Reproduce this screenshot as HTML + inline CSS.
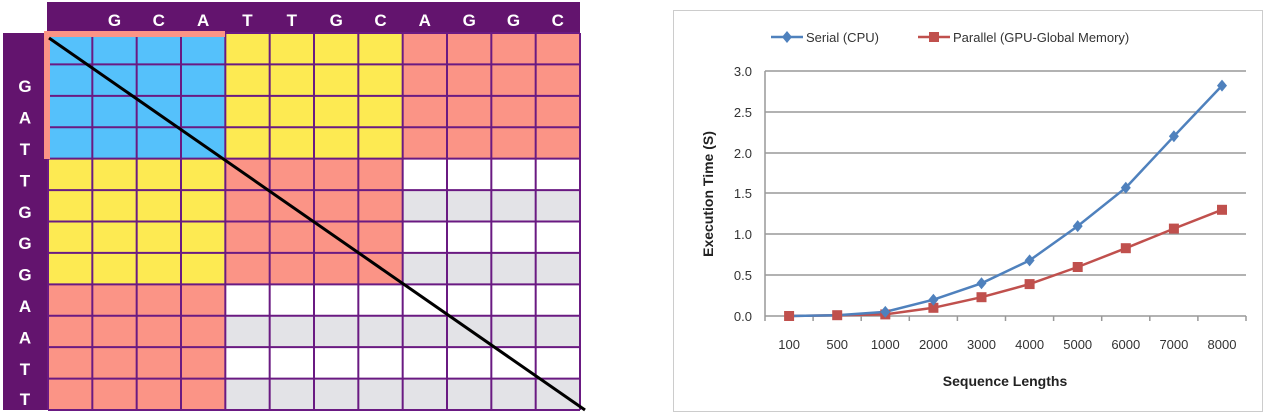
<!DOCTYPE html><html><head><style>body{margin:0;background:#fff;width:1267px;height:416px;overflow:hidden}svg{display:block}</style></head><body>
<svg width="1267" height="416" xmlns="http://www.w3.org/2000/svg" font-family="Liberation Sans, sans-serif">
<rect x="47" y="2" width="533" height="32" fill="#63146e"/>
<rect x="3" y="33" width="45" height="377" fill="#63146e"/>
<rect x="48" y="33" width="532" height="377" fill="#fff"/>
<rect x="48" y="33" width="177.33" height="125.67" fill="#55c1fb"/>
<rect x="225.33" y="33" width="177.33" height="125.67" fill="#fdea52"/>
<rect x="48" y="158.67" width="177.33" height="125.67" fill="#fdea52"/>
<rect x="402.67" y="33" width="177.33" height="125.67" fill="#fb9486"/>
<rect x="225.33" y="158.67" width="177.33" height="125.67" fill="#fb9486"/>
<rect x="48" y="284.33" width="177.33" height="125.67" fill="#fb9486"/>
<g fill="#e3e3e7">
<rect x="402.67" y="190.08" width="177.33" height="31.42"/>
<rect x="402.67" y="252.92" width="177.33" height="31.42"/>
<rect x="225.33" y="315.75" width="354.67" height="31.42"/>
<rect x="225.33" y="378.58" width="354.67" height="31.42"/>
</g>
<g stroke="#6a1a82" stroke-width="2">
<line x1="48" y1="33" x2="48" y2="410"/><line x1="92.33" y1="33" x2="92.33" y2="410"/><line x1="136.67" y1="33" x2="136.67" y2="410"/><line x1="181" y1="33" x2="181" y2="410"/><line x1="225.33" y1="33" x2="225.33" y2="410"/><line x1="269.67" y1="33" x2="269.67" y2="410"/><line x1="314" y1="33" x2="314" y2="410"/><line x1="358.33" y1="33" x2="358.33" y2="410"/><line x1="402.67" y1="33" x2="402.67" y2="410"/><line x1="447" y1="33" x2="447" y2="410"/><line x1="491.33" y1="33" x2="491.33" y2="410"/><line x1="535.67" y1="33" x2="535.67" y2="410"/><line x1="580" y1="33" x2="580" y2="410"/>
<line x1="48" y1="33" x2="580" y2="33"/><line x1="48" y1="64.42" x2="580" y2="64.42"/><line x1="48" y1="95.83" x2="580" y2="95.83"/><line x1="48" y1="127.25" x2="580" y2="127.25"/><line x1="48" y1="158.67" x2="580" y2="158.67"/><line x1="48" y1="190.08" x2="580" y2="190.08"/><line x1="48" y1="221.5" x2="580" y2="221.5"/><line x1="48" y1="252.92" x2="580" y2="252.92"/><line x1="48" y1="284.33" x2="580" y2="284.33"/><line x1="48" y1="315.75" x2="580" y2="315.75"/><line x1="48" y1="347.17" x2="580" y2="347.17"/><line x1="48" y1="378.58" x2="580" y2="378.58"/><line x1="48" y1="410" x2="580" y2="410"/>
</g>
<g fill="#fff" font-weight="bold" font-size="17" text-anchor="middle">
<text x="114.5" y="26">G</text><text x="158.8" y="26">C</text><text x="203.2" y="26">A</text><text x="247.5" y="26">T</text><text x="291.8" y="26">T</text><text x="336.2" y="26">G</text><text x="380.5" y="26">C</text><text x="424.8" y="26">A</text><text x="469.2" y="26">G</text><text x="513.5" y="26">G</text><text x="557.8" y="26">C</text>
<text x="25" y="92">G</text><text x="25" y="123.5">A</text><text x="25" y="155">T</text><text x="25" y="186.5">T</text><text x="25" y="218">G</text><text x="25" y="249">G</text><text x="25" y="280.5">G</text><text x="25" y="312">A</text><text x="25" y="343.5">A</text><text x="25" y="375">T</text><text x="25" y="405">T</text>
</g>
<rect x="44" y="31" width="181" height="6" fill="#fb9486"/>
<rect x="44" y="31" width="6" height="128" fill="#fb9486"/>
<line x1="49" y1="38" x2="585" y2="410" stroke="#000" stroke-width="3"/>

<rect x="673.5" y="10.5" width="589" height="401" fill="#fff" stroke="#ccc"/>
<g stroke="#999" stroke-width="1.5">
<line x1="765" y1="71" x2="1246" y2="71"/><line x1="765" y1="112" x2="1246" y2="112"/><line x1="765" y1="153" x2="1246" y2="153"/><line x1="765" y1="193" x2="1246" y2="193"/><line x1="765" y1="234" x2="1246" y2="234"/><line x1="765" y1="275" x2="1246" y2="275"/><line x1="765" y1="316" x2="1246" y2="316"/><line x1="765" y1="71" x2="765" y2="316"/>
<line x1="765" y1="316" x2="765" y2="321"/><line x1="813.1" y1="316" x2="813.1" y2="321"/><line x1="861.2" y1="316" x2="861.2" y2="321"/><line x1="909.3" y1="316" x2="909.3" y2="321"/><line x1="957.4" y1="316" x2="957.4" y2="321"/><line x1="1005.5" y1="316" x2="1005.5" y2="321"/><line x1="1053.6" y1="316" x2="1053.6" y2="321"/><line x1="1101.7" y1="316" x2="1101.7" y2="321"/><line x1="1149.8" y1="316" x2="1149.8" y2="321"/><line x1="1197.9" y1="316" x2="1197.9" y2="321"/><line x1="1246" y1="316" x2="1246" y2="321"/>
</g>
<g font-size="13" text-anchor="end" fill="#333">
<text x="752" y="321">0.0</text><text x="752" y="280">0.5</text><text x="752" y="239">1.0</text><text x="752" y="198">1.5</text><text x="752" y="158">2.0</text><text x="752" y="117">2.5</text><text x="752" y="76">3.0</text>
</g>
<g font-size="13" text-anchor="middle" fill="#333">
<text x="789.1" y="349">100</text><text x="837.2" y="349">500</text><text x="885.3" y="349">1000</text><text x="933.4" y="349">2000</text><text x="981.5" y="349">3000</text><text x="1029.6" y="349">4000</text><text x="1077.7" y="349">5000</text><text x="1125.8" y="349">6000</text><text x="1173.9" y="349">7000</text><text x="1222" y="349">8000</text>
</g>
<polyline points="789.1,316 837.2,315.2 885.3,314.4 933.4,307.8 981.5,297.2 1029.6,284.1 1077.7,267 1125.8,248.2 1173.9,228.6 1222,209.8" fill="none" stroke="#c0504d" stroke-width="2.5"/>
<polyline points="789.1,316 837.2,315.2 885.3,311.9 933.4,299.7 981.5,283.3 1029.6,260.4 1077.7,226.1 1125.8,187.7 1173.9,136.3 1222,85.6" fill="none" stroke="#4f81bd" stroke-width="2.5"/>
<g fill="#c0504d">
<rect x="784.1" y="311" width="10" height="10"/><rect x="832.2" y="310.2" width="10" height="10"/><rect x="880.3" y="309.4" width="10" height="10"/><rect x="928.4" y="302.8" width="10" height="10"/><rect x="976.5" y="292.2" width="10" height="10"/><rect x="1024.6" y="279.1" width="10" height="10"/><rect x="1072.7" y="262" width="10" height="10"/><rect x="1120.8" y="243.2" width="10" height="10"/><rect x="1168.9" y="223.6" width="10" height="10"/><rect x="1217" y="204.8" width="10" height="10"/>
</g>
<g fill="#4f81bd">
<polygon points="885.3,305.9 890.3,311.9 885.3,317.9 880.3,311.9"/>
<polygon points="933.4,293.7 938.4,299.7 933.4,305.7 928.4,299.7"/>
<polygon points="981.5,277.3 986.5,283.3 981.5,289.3 976.5,283.3"/>
<polygon points="1029.6,254.4 1034.6,260.4 1029.6,266.4 1024.6,260.4"/>
<polygon points="1077.7,220.1 1082.7,226.1 1077.7,232.1 1072.7,226.1"/>
<polygon points="1125.8,181.7 1130.8,187.7 1125.8,193.7 1120.8,187.7"/>
<polygon points="1173.9,130.3 1178.9,136.3 1173.9,142.3 1168.9,136.3"/>
<polygon points="1222,79.6 1227,85.6 1222,91.6 1217,85.6"/>
</g>
<line x1="771" y1="37" x2="803" y2="37" stroke="#4f81bd" stroke-width="2.5"/><polygon points="787,31 792,37 787,43 782,37" fill="#4f81bd"/>
<text x="806" y="42" font-size="13" fill="#333">Serial (CPU)</text>
<line x1="918" y1="37" x2="950" y2="37" stroke="#c0504d" stroke-width="2.5"/><rect x="929" y="32" width="10" height="10" fill="#c0504d"/>
<text x="953" y="42" font-size="13" fill="#333">Parallel (GPU-Global Memory)</text>
<text x="1005" y="386" font-size="14" font-weight="bold" text-anchor="middle" fill="#222">Sequence Lengths</text>
<text transform="translate(713,194) rotate(-90)" font-size="14" font-weight="bold" text-anchor="middle" fill="#222">Execution Time (S)</text>
</svg></body></html>
